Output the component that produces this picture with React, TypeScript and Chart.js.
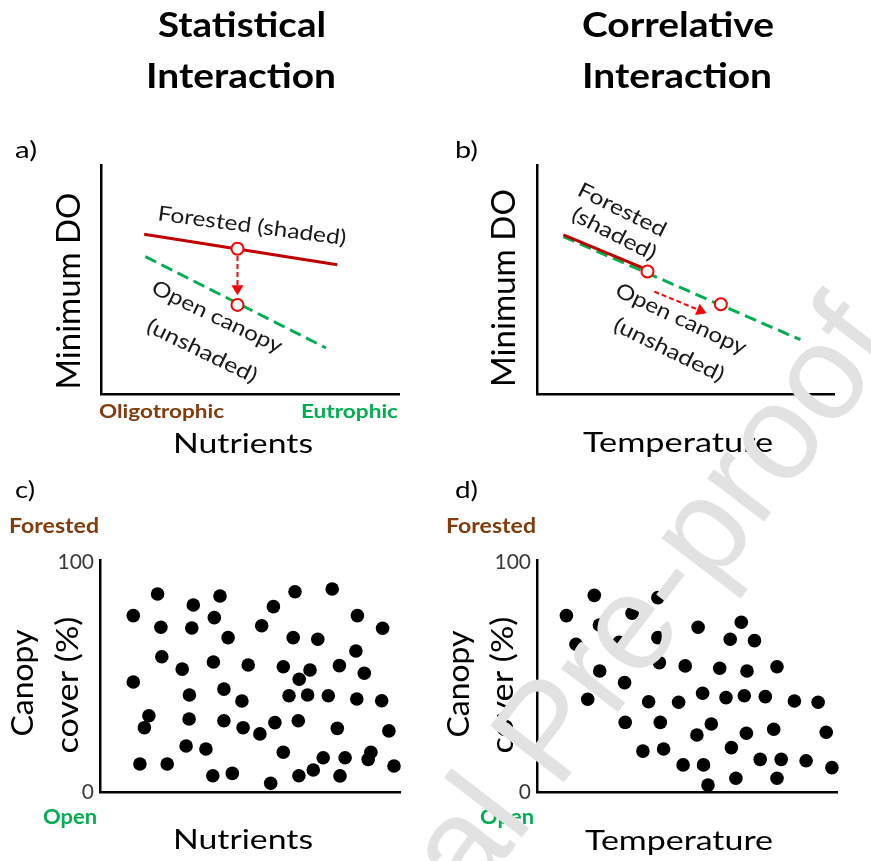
import React, { useEffect, useRef } from 'react';
import { Chart, registerables } from 'chart.js';

Chart.register(...registerables);

const W = 871;
const H = 861;
const FONT = 'Lato, "Open Sans", sans-serif';
const BROWN = '#843C0C';
const GREEN = '#00B050';
const DARKRED = '#C00000';
const RED = '#FF0000';

// ---------- panel a (statistical interaction) ----------
const aForestedX = [14.5, 79.3];
const aForestedY = [69.8, 56.4];
const aOpenX = [14.9, 75.5];
const aOpenY = [60.0, 20.1];
const aMarkX = [45.8, 45.8];
const aMarkY = [63.4, 38.9];
const aArrowX = [45.8, 45.8];
const aArrowY = [60.3, 43.1];

// ---------- panel b (correlative interaction) ----------
const bForestedX = [8.9, 35.8];
const bForestedY = [69.5, 55.0];
const bOpenX = [8.9, 88.7];
const bOpenY = [68.7, 23.7];
const bMarkX = [37.2, 61.9];
const bMarkY = [53.5, 39.2];
const bArrowX = [39.5, 57.1];
const bArrowY = [44.7, 35.3];

// ---------- panel c (canopy vs nutrients) ----------
const cX = [11.1, 19.2, 11.1, 20.3, 20.6, 16.3, 14.8, 13.3, 22.4, 31.1, 30.6, 27.4, 29.8, 29.7, 28.7, 35.3, 37.6, 44.1, 40.0, 38.1, 42.7, 37.8, 41.3, 41.3, 47.3, 47.7, 49.4, 53.9, 57.8, 53.3, 58.3, 56.9, 61.1, 61.1, 65.0, 64.4, 66.4, 63.0, 66.1, 66.3, 70.0, 69.2, 72.6, 71.1, 74.4, 77.4, 76.1, 79.8, 79.1, 80.0, 81.7, 85.8, 85.3, 88.1, 85.6, 90.3, 89.4, 94.2, 93.9, 96.3, 98.0];
const cY = [76.8, 86.2, 47.9, 71.7, 58.9, 33.2, 28.0, 12.2, 12.2, 81.4, 71.4, 53.5, 42.2, 31.8, 20.0, 18.7, 7.1, 8.1, 85.3, 75.9, 67.2, 56.6, 44.8, 31.0, 39.6, 28.0, 55.3, 72.4, 80.7, 25.3, 30.2, 3.8, 54.5, 17.3, 87.2, 67.2, 49.1, 41.9, 31.0, 7.1, 53.1, 42.2, 66.5, 9.6, 14.9, 88.4, 41.9, 55.0, 27.7, 7.0, 14.9, 76.8, 61.4, 51.7, 40.5, 17.3, 14.2, 71.3, 39.7, 26.6, 11.3];

// ---------- panel d (canopy vs temperature) ----------
const dX = [9.8, 19.1, 13.0, 20.8, 20.9, 16.9, 31.7, 27.4, 40.3, 40.3, 40.8, 29.2, 29.4, 37.2, 41.1, 35.3, 42.2, 49.4, 47.2, 53.7, 55.2, 58.1, 53.3, 48.7, 55.5, 57.0, 60.9, 63.0, 64.4, 68.1, 70.0, 69.1, 72.5, 69.8, 64.8, 66.3, 80.0, 76.1, 78.9, 74.4, 81.4, 80.0, 85.8, 93.7, 96.4, 89.7, 98.3];
const dY = [76.8, 85.6, 64.3, 72.7, 52.7, 40.4, 77.8, 65.2, 84.6, 67.2, 56.3, 47.6, 30.3, 39.3, 30.3, 17.8, 18.7, 54.9, 39.1, 71.7, 43.0, 29.6, 24.8, 11.8, 11.8, 3.0, 53.9, 41.1, 66.5, 73.9, 52.7, 41.9, 65.9, 25.6, 19.3, 6.0, 54.5, 41.5, 27.3, 14.2, 14.2, 6.0, 39.6, 39.1, 26.0, 13.6, 10.6];

const yTickValues = [0, 100];

type T = {
  s: string; x: number; y: number; size: number; w?: number; bold?: boolean;
  color?: string; align?: CanvasTextAlign; base?: CanvasTextBaseline; rot?: number; family?: string;
};

function drawText(ctx: CanvasRenderingContext2D, t: T) {
  ctx.save();
  const weight = t.bold ? '700' : '400';
  ctx.font = `${weight} ${t.size}px ${t.family || FONT}`;
  ctx.fillStyle = t.color || '#000';
  ctx.textAlign = t.align || 'left';
  ctx.textBaseline = t.base || 'alphabetic';
  ctx.translate(t.x, t.y);
  if (t.rot) ctx.rotate((t.rot * Math.PI) / 180);
  if (t.w) {
    const m = ctx.measureText(t.s).width;
    ctx.scale(t.w / m, 1);
  }
  ctx.fillText(t.s, 0, 0);
  ctx.restore();
}

function drawArrow(ctx: CanvasRenderingContext2D, x1: number, y1: number, x2: number, y2: number) {
  const ang = Math.atan2(y2 - y1, x2 - x1);
  const head = 10;
  const half = 6;
  const bx = x2 - head * Math.cos(ang);
  const by = y2 - head * Math.sin(ang);
  ctx.save();
  ctx.strokeStyle = RED;
  ctx.lineWidth = 2;
  ctx.setLineDash([5, 3]);
  ctx.beginPath();
  ctx.moveTo(x1, y1);
  ctx.lineTo(bx, by);
  ctx.stroke();
  ctx.setLineDash([]);
  ctx.fillStyle = RED;
  ctx.beginPath();
  ctx.moveTo(x2, y2);
  ctx.lineTo(bx + half * Math.sin(ang), by - half * Math.cos(ang));
  ctx.lineTo(bx - half * Math.sin(ang), by + half * Math.cos(ang));
  ctx.closePath();
  ctx.fill();
  ctx.restore();
}

const pts = (xs: number[], ys: number[]) => xs.map((x, i) => ({ x, y: ys[i] }));

function axis(min: number, max: number, extra: any = {}) {
  return {
    type: 'linear',
    min,
    max,
    grid: { display: false, drawTicks: false },
    border: { display: true, color: '#000', width: 2.5 },
    ticks: { display: false },
    ...extra,
  };
}

function baseOptions(area: { l: number; t: number; r: number; b: number }, scales: any, padLeftExtra = 0) {
  return {
    responsive: false,
    animation: false,
    devicePixelRatio: 1,
    events: [],
    layout: { padding: { left: area.l - padLeftExtra, top: area.t, right: W - area.r, bottom: H - area.b } },
    plugins: { legend: { display: false }, tooltip: { enabled: false } },
    scales,
  };
}

function lineConfig(
  area: any, fx: number[], fy: number[], ox: number[], oy: number[],
  mx: number[], my: number[], arx: number[], ary: number[], texts: T[]
) {
  return {
    type: 'scatter',
    data: {
      datasets: [
        {
          label: 'Change',
          data: pts(mx, my),
          pointStyle: 'circle',
          pointRadius: 6,
          borderWidth: 2,
          borderColor: RED,
          backgroundColor: '#fff',
          showLine: false,
          clip: false,
        },
        {
          label: 'Forested (shaded)',
          data: pts(fx, fy),
          showLine: true,
          borderColor: DARKRED,
          borderWidth: 3,
          pointRadius: 0,
          clip: false,
        },
        {
          label: 'Open canopy (unshaded)',
          data: pts(ox, oy),
          showLine: true,
          borderColor: GREEN,
          borderWidth: 3,
          borderDash: [12, 6],
          pointRadius: 0,
          clip: false,
        },
      ],
    },
    options: baseOptions(area, { x: axis(0, 100), y: axis(0, 100) }),
    plugins: [
      {
        id: 'deco',
        afterDraw(chart: any) {
          const ctx = chart.ctx;
          const xs = chart.scales.x;
          const ys = chart.scales.y;
          drawArrow(
            ctx,
            xs.getPixelForValue(arx[0]), ys.getPixelForValue(ary[0]),
            xs.getPixelForValue(arx[1]), ys.getPixelForValue(ary[1])
          );
          texts.forEach((t) => drawText(ctx, t));
        },
      },
    ],
  };
}

function scatterConfig(area: any, xs: number[], ys: number[], texts: T[], watermark: boolean) {
  return {
    type: 'scatter',
    data: {
      datasets: [
        {
          label: 'Sites',
          data: pts(xs, ys),
          pointRadius: 6.8,
          borderWidth: 0,
          backgroundColor: '#000',
          borderColor: '#000',
          clip: false,
        },
      ],
    },
    options: baseOptions(
      area,
      {
        x: axis(0, 100),
        y: axis(0, 101, {
          ticks: {
            display: true,
            font: { family: FONT, size: 21 },
            color: '#3a3a3a',
            padding: 6,
            includeBounds: false,
          },
          afterBuildTicks: (s: any) => {
            s.ticks = yTickValues.map((v) => ({ value: v }));
          },
          afterFit: (s: any) => {
            s.width = 60;
          },
        }),
      },
      60
    ),
    plugins: [
      {
        id: 'deco',
        afterDraw(chart: any) {
          const ctx = chart.ctx;
          texts.forEach((t) => drawText(ctx, t));
          if (watermark) {
            ctx.save();
            ctx.translate(265, 1172);
            ctx.rotate((-52.5 * Math.PI) / 180);
            ctx.font = '400 135px "Liberation Sans", Arial, sans-serif';
            ctx.fillStyle = '#e2e2e2';
            ctx.textAlign = 'left';
            ctx.textBaseline = 'alphabetic';
            ctx.fillText('Journal Pre-proof', 0, 0);
            ctx.restore();
          }
        },
      },
    ],
  };
}

const ANN = '#1a1a1a';

const textsA: T[] = [
  { s: 'Statistical', x: 242, y: 37, size: 34, w: 168, bold: true, align: 'center' },
  { s: 'Interaction', x: 241, y: 88, size: 34, w: 190, bold: true, align: 'center' },
  { s: 'a)', x: 15, y: 158, size: 23, w: 22 },
  { s: 'Minimum DO', x: 80, y: 291, size: 32, w: 197, align: 'center', rot: -90 },
  { s: 'Oligotrophic', x: 99, y: 418, size: 19, w: 125, bold: true, color: BROWN },
  { s: 'Eutrophic', x: 398, y: 418, size: 19, w: 97, bold: true, color: GREEN, align: 'right' },
  { s: 'Nutrients', x: 243, y: 453, size: 27, w: 140, align: 'center' },
  { s: 'Forested (shaded)', x: 252, y: 226, size: 21, w: 190, align: 'center', base: 'middle', rot: 7.5, color: ANN },
  { s: 'Open canopy', x: 217, y: 317, size: 21, w: 142, align: 'center', base: 'middle', rot: 25.5, color: ANN },
  { s: '(unshaded)', x: 202, y: 351, size: 21, w: 120, align: 'center', base: 'middle', rot: 26, color: ANN },
];

const textsB: T[] = [
  { s: 'Correlative', x: 678, y: 37, size: 34, w: 192, bold: true, align: 'center' },
  { s: 'Interaction', x: 677, y: 88, size: 34, w: 190, bold: true, align: 'center' },
  { s: 'b)', x: 455, y: 158, size: 23, w: 23 },
  { s: 'Minimum DO', x: 515, y: 288, size: 32, w: 198, align: 'center', rot: -90 },
  { s: 'Temperature', x: 678, y: 452, size: 27, w: 190, align: 'center' },
  { s: 'Forested', x: 622, y: 210, size: 21, w: 96, align: 'center', base: 'middle', rot: 26.5, color: ANN },
  { s: '(shaded)', x: 614, y: 234, size: 21, w: 92, align: 'center', base: 'middle', rot: 27, color: ANN },
  { s: 'Open canopy', x: 681, y: 319, size: 21, w: 142, align: 'center', base: 'middle', rot: 25, color: ANN },
  { s: '(unshaded)', x: 669, y: 350, size: 21, w: 120, align: 'center', base: 'middle', rot: 26, color: ANN },
];

const textsC: T[] = [
  { s: 'c)', x: 15, y: 498, size: 23, w: 20 },
  { s: 'Forested', x: 9, y: 533, size: 20, w: 90, bold: true, color: BROWN },
  { s: 'Open', x: 43, y: 824, size: 20, w: 54, bold: true, color: GREEN },
  { s: 'Canopy', x: 33, y: 683, size: 31, w: 107, align: 'center', rot: -90 },
  { s: 'cover (%)', x: 78, y: 685, size: 31, w: 137, align: 'center', rot: -90 },
  { s: 'Nutrients', x: 243, y: 849, size: 27, w: 140, align: 'center' },
];

const textsD: T[] = [
  { s: 'd)', x: 455, y: 498, size: 23, w: 23 },
  { s: 'Forested', x: 446, y: 533, size: 20, w: 90, bold: true, color: BROWN },
  { s: 'Open', x: 480, y: 824, size: 20, w: 54, bold: true, color: GREEN },
  { s: 'Canopy', x: 469, y: 684, size: 31, w: 107, align: 'center', rot: -90 },
  { s: 'cover (%)', x: 513, y: 685, size: 31, w: 137, align: 'center', rot: -90 },
  { s: 'Temperature', x: 679, y: 850, size: 27, w: 188, align: 'center' },
];

export default function App() {
  const r0 = useRef<HTMLCanvasElement>(null);
  const r1 = useRef<HTMLCanvasElement>(null);
  const r2 = useRef<HTMLCanvasElement>(null);
  const r3 = useRef<HTMLCanvasElement>(null);

  useEffect(() => {
    const charts = [
      new Chart(r0.current as any, lineConfig({ l: 101, t: 165, r: 399, b: 394 }, aForestedX, aForestedY, aOpenX, aOpenY, aMarkX, aMarkY, aArrowX, aArrowY, textsA) as any),
      new Chart(r1.current as any, lineConfig({ l: 537, t: 165, r: 834, b: 394 }, bForestedX, bForestedY, bOpenX, bOpenY, bMarkX, bMarkY, bArrowX, bArrowY, textsB) as any),
      new Chart(r2.current as any, scatterConfig({ l: 100, t: 560, r: 400, b: 792 }, cX, cY, textsC, false) as any),
      new Chart(r3.current as any, scatterConfig({ l: 537, t: 560, r: 837, b: 792 }, dX, dY, textsD, true) as any),
    ];
    return () => charts.forEach((c) => c.destroy());
  }, []);

  const cs: React.CSSProperties = { position: 'absolute', left: 0, top: 0, width: W, height: H };
  return (
    <div style={{ position: 'absolute', left: 0, top: 0, width: W, height: H, background: '#fff', overflow: 'hidden' }}>
      <canvas ref={r0} width={W} height={H} style={cs} />
      <canvas ref={r1} width={W} height={H} style={cs} />
      <canvas ref={r2} width={W} height={H} style={cs} />
      <canvas ref={r3} width={W} height={H} style={cs} />
    </div>
  );
}
